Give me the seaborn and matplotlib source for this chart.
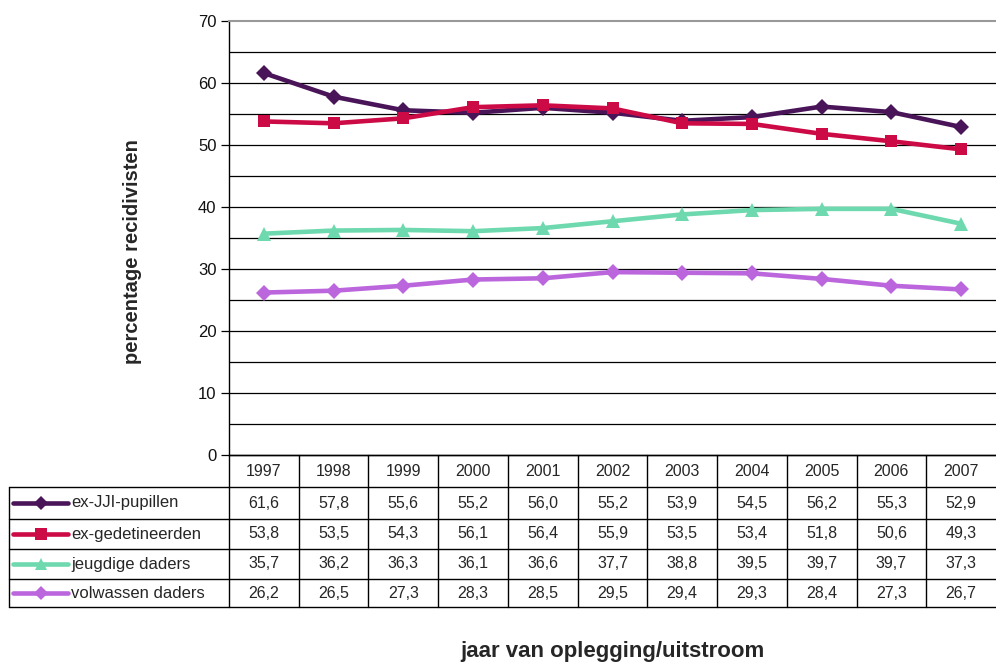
"""Recidive per dader-groep, lijndiagram met datatabel (Excel-stijl)."""

import matplotlib
matplotlib.use("Agg")
import matplotlib.pyplot as plt
import matplotlib.transforms as mtransforms
import numpy as np
import seaborn as sns

years = ["1997", "1998", "1999", "2000", "2001", "2002", "2003", "2004", "2005", "2006", "2007"]
jji = [61.6, 57.8, 55.6, 55.2, 56.0, 55.2, 53.9, 54.5, 56.2, 55.3, 52.9]
gedetineerden = [53.8, 53.5, 54.3, 56.1, 56.4, 55.9, 53.5, 53.4, 51.8, 50.6, 49.3]
jeugdig = [35.7, 36.2, 36.3, 36.1, 36.6, 37.7, 38.8, 39.5, 39.7, 39.7, 37.3]
volwassen = [26.2, 26.5, 27.3, 28.3, 28.5, 29.5, 29.4, 29.3, 28.4, 27.3, 26.7]

series_names = ["ex-JJI-pupillen", "ex-gedetineerden", "jeugdige daders", "volwassen daders"]
series_values = [jji, gedetineerden, jeugdig, volwassen]
colors = ["#4A1459", "#CC0A45", "#6ED9AE", "#BC66DD"]
markers = ["D", "s", "^", "D"]
msizes = [8, 9, 10, 8]

W, H = 996, 664
sns.set_theme(style="white")
plt.rcParams["font.family"] = ["Liberation Sans", "DejaVu Sans"]

fig = plt.figure(figsize=(W / 100, H / 100), dpi=100)

# plot area in pixels
px_l, px_r, px_t, px_b = 229, 996, 21, 455
ax = fig.add_axes([px_l / W, 1 - px_b / H, (px_r - px_l) / W, (px_b - px_t) / H])

x_idx = np.arange(len(years))
for name, vals, c, m, ms in zip(series_names, series_values, colors, markers, msizes):
    sns.lineplot(x=x_idx, y=vals, color=c, marker=m, markersize=ms, markeredgewidth=0,
                 linewidth=3.3, ax=ax, legend=False, zorder=3)

ax.set_xlim(-0.5, len(years) - 0.5)
ax.set_ylim(0, 70)
ax.set_yticks(np.arange(0, 71, 10))
ax.set_xticks([])
ax.grid(False)
for y in np.arange(5, 70, 5):
    ax.axhline(y, color="black", linewidth=0.9, zorder=1)
ax.tick_params(axis="y", which="major", left=True, length=6, width=0.9, color="black",
               labelsize=12, pad=3, labelcolor="#111111")
ax.spines["left"].set_color("black")
ax.spines["left"].set_linewidth(1.0)
ax.spines["bottom"].set_color("black")
ax.spines["bottom"].set_linewidth(1.0)
ax.spines["top"].set_color("#999999")
ax.spines["top"].set_linewidth(1.5)
ax.spines["right"].set_visible(False)
ax.set_xlabel("")
ax.set_ylabel("")

fig.text(132 / W, 1 - 252 / H, "percentage recidivisten", rotation=90, ha="center", va="center",
         fontsize=14.5, fontweight="bold")
fig.text(612 / W, 1 - 657 / H, "jaar van oplegging/uitstroom", ha="center", va="baseline",
         fontsize=16, fontweight="bold")

# data table under the chart
tr = mtransforms.blended_transform_factory(ax.transData, fig.transFigure)
rows_px = [455, 487, 519, 549, 579, 607]
fy = [1 - p / H for p in rows_px]
col_px = (px_r - px_l) / len(years)
x_left = -0.5 - (px_l - 9) / col_px
x_right = len(years) - 0.5

lw = 1.0
# horizontal lines
ax.plot([-0.5, x_right], [fy[0], fy[0]], transform=tr, color="black", lw=lw, clip_on=False)
for yv in fy[1:]:
    ax.plot([x_left, x_right], [yv, yv], transform=tr, color="black", lw=lw, clip_on=False)
# vertical lines
for i in range(len(years)):
    ax.plot([i - 0.5, i - 0.5], [fy[0], fy[-1]], transform=tr, color="black", lw=lw, clip_on=False)
ax.plot([x_left, x_left], [fy[1], fy[-1]], transform=tr, color="black", lw=lw, clip_on=False)

# header
for i, yr in enumerate(years):
    ax.text(i, (fy[0] + fy[1]) / 2, yr, transform=tr, ha="center", va="center", fontsize=11.5)

# rows
px_unit = 1 / col_px
for r, (name, vals, c, m, ms) in enumerate(zip(series_names, series_values, colors, markers, msizes)):
    yc = (fy[r + 1] + fy[r + 2]) / 2
    xs0 = x_left + 4 * px_unit
    xs1 = x_left + 59 * px_unit
    ax.plot([xs0, xs1], [yc, yc], transform=tr, color=c, lw=3.3, clip_on=False)
    ax.plot([(xs0 + xs1) / 2], [yc], transform=tr, color=c, marker=m, markersize=ms * 0.9,
            markeredgewidth=0, clip_on=False)
    ax.text(x_left + 62 * px_unit, yc, name, transform=tr, ha="left", va="center", fontsize=12)
    for i, v in enumerate(vals):
        ax.text(i, yc, f"{v:.1f}".replace(".", ","), transform=tr, ha="center", va="center",
                fontsize=11.5)

fig.savefig("out.png", dpi=100, facecolor="white")
plt.close(fig)
